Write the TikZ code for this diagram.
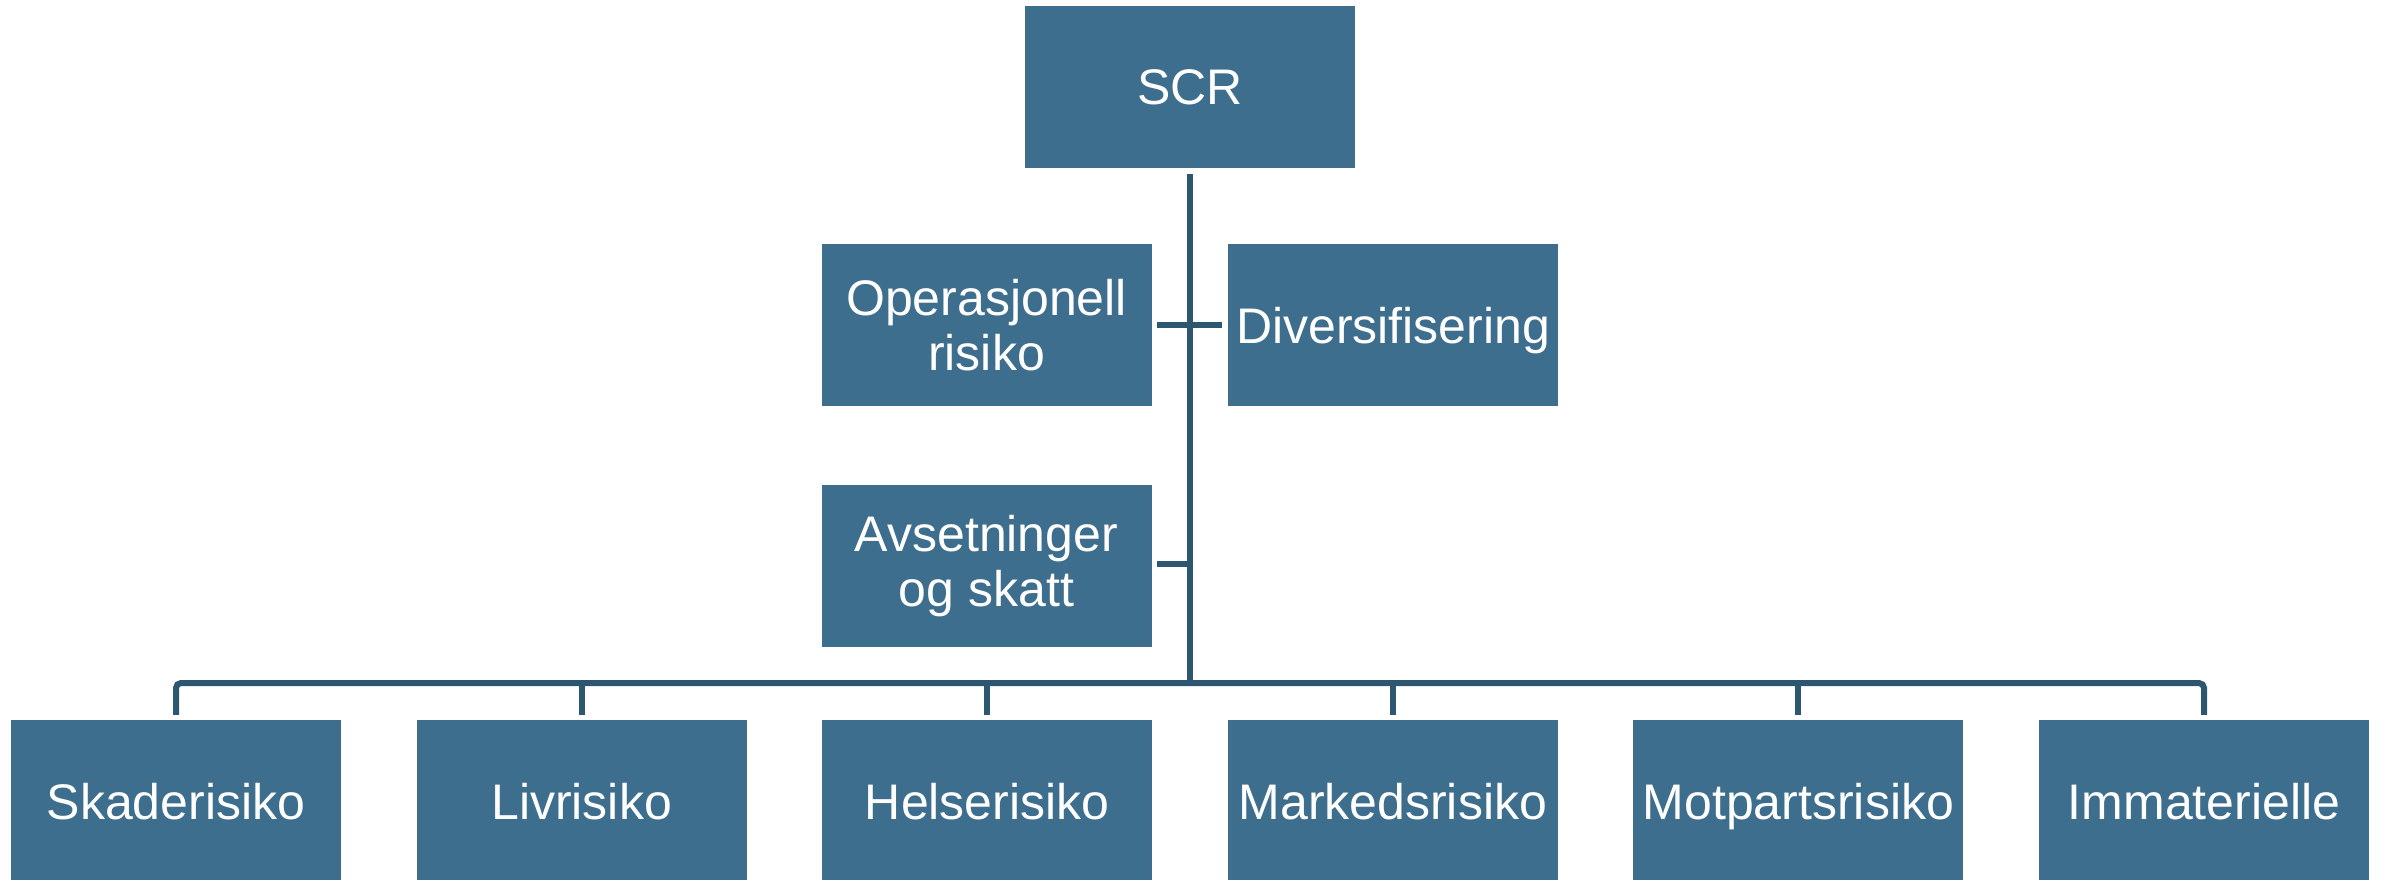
\documentclass[tikz,border=0pt]{standalone}
\usepackage{fontspec}
\setmainfont{Liberation Sans}
\definecolor{boxblue}{HTML}{3E6E8E}
\definecolor{lineblue}{HTML}{2D5671}
\begin{document}
\begin{tikzpicture}[x=1pt,y=-1pt,
  box/.style={fill=boxblue,text=white,minimum width=330pt,minimum height=162pt,inner sep=0pt,align=center,font=\fontsize{50}{55}\selectfont},
  onebox/.style={box,text depth=0pt},
  conn/.style={draw=lineblue,line width=6pt}]
\useasboundingbox (0,0) rectangle (2385,880);
\node[onebox] (scr) at (1190,87) {SCR};
\node[box] (op) at (986.5,325) {Operasjonell\\risiko};
\node[onebox] (div) at (1393,325) {Diversifisering};
\node[box] (avs) at (986.5,566) {Avsetninger\\og skatt};
\node[onebox] (b1) at (176,801) {Skaderisiko};
\node[onebox] (b2) at (581.6,801) {Livrisiko};
\node[onebox] (b3) at (987.2,801) {Helserisiko};
\node[onebox] (b4) at (1392.8,801) {Markedsrisiko};
\node[onebox] (b5) at (1798.4,801) {Motpartsrisiko};
\node[onebox] (b6) at (2204,801) {Immaterielle};
\coordinate (bus) at (1190,683);
\draw[conn] ([yshift=-6pt]scr.south) -- (scr.south |- bus);
\draw[conn] ([xshift=5pt]op.east) -- ([xshift=-6pt]div.west);
\draw[conn] ([xshift=5pt]avs.east |- 0,564) -- (scr.south |- 0,564);
\draw[conn,rounded corners=5pt] ([yshift=5pt]b1.north) -- (b1.north |- bus) -- (b6.north |- bus) -- ([yshift=5pt]b6.north);
\foreach \b in {b2,b3,b4,b5}
  \draw[conn] (\b.north |- bus) -- ([yshift=5pt]\b.north);
\end{tikzpicture}
\end{document}
